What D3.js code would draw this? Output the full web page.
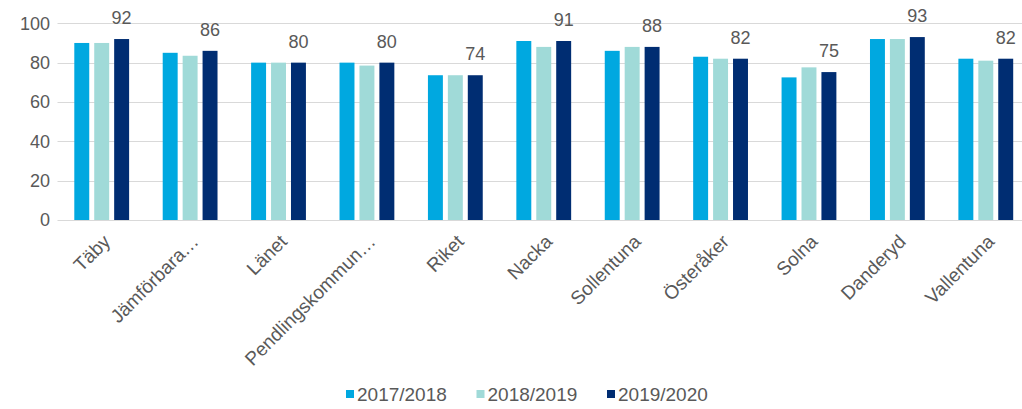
<!DOCTYPE html>
<html>
<head>
<meta charset="utf-8">
<script src="https://cdn.jsdelivr.net/npm/d3@7"></script>
<style>
  html, body { margin: 0; padding: 0; background: #fff; }
  svg { display: block; font-family: Arial, "Liberation Sans", sans-serif; }
</style>
</head>
<body>
<svg id="chart" width="1022" height="409"></svg>
<script>
const categories = ["Täby", "Jämförbara…", "Länet", "Pendlingskommun…", "Riket", "Nacka", "Sollentuna", "Österåker", "Solna", "Danderyd", "Vallentuna"];
const seriesNames = ["2017/2018", "2018/2019", "2019/2020"];
const values2017 = [90, 85, 80, 80, 73.6, 91, 86, 83, 72.5, 92, 82];
const values2018 = [90, 83.5, 80, 78.5, 73.6, 88, 88, 82, 77.6, 92, 81];
const values2019 = [92, 86, 80, 80, 73.6, 91, 88, 82, 75.2, 93, 82];
const yTicks = [0, 20, 40, 60, 80, 100];
const colors = ["#00a8e0", "#a0dad8", "#002d72"];

const seriesValues = [values2017, values2018, values2019];
const data = categories.map((c, i) => ({
  cat: c,
  vals: seriesNames.map((s, j) => ({ series: s, idx: j, value: seriesValues[j][i] }))
}));

const svg = d3.select("#chart");
const textColor = "#595959";
const gridColor = "#d9d9d9";
const FONT = "Arial, 'Liberation Sans', sans-serif";

const x0 = d3.scaleBand().domain(categories).range([57.5, 1030]).paddingInner(0.38).paddingOuter(0.19);
const x1 = d3.scaleBand().domain(seriesNames).range([0, x0.bandwidth()]).paddingInner(0.25).paddingOuter(0);
const y = d3.scaleLinear().domain([0, 100]).range([220, 23.3]);

// gridlines
svg.append("g").selectAll("line").data(yTicks).join("line")
  .attr("x1", 57.5).attr("x2", 1022)
  .attr("y1", d => Math.round(y(d)) + 0.5).attr("y2", d => Math.round(y(d)) + 0.5)
  .attr("stroke", gridColor).attr("stroke-width", 1);

// y axis labels
const yAxis = d3.axisLeft(y).tickValues(yTicks).tickSize(0).tickPadding(0);
const gy = svg.append("g").attr("transform", "translate(50,0)").call(yAxis);
gy.attr("font-size", null).attr("font-family", null);
gy.select(".domain").remove();
gy.selectAll("text").attr("fill", textColor).attr("font-size", "18px").attr("font-family", FONT);

// bars
const groups = svg.append("g").selectAll("g").data(data).join("g")
  .attr("transform", d => `translate(${x0(d.cat)},0)`);
groups.selectAll("rect").data(d => d.vals).join("rect")
  .attr("x", d => x1(d.series))
  .attr("width", x1.bandwidth())
  .attr("y", d => y(d.value))
  .attr("height", d => y(0) - y(d.value))
  .attr("fill", d => colors[d.idx]);

// data labels for last series
groups.append("text")
  .attr("x", d => x1(seriesNames[2]) + x1.bandwidth() / 2)
  .attr("y", d => y(d.vals[2].value) - 15)
  .attr("text-anchor", "middle")
  .attr("fill", textColor)
  .attr("font-size", "18px")
  .text(d => d3.format(".0f")(d.vals[2].value));

// x axis labels
const xAxis = d3.axisBottom(x0).tickSize(0).tickPadding(0);
const gx = svg.append("g").attr("transform", "translate(0,232)").call(xAxis);
gx.attr("font-size", null).attr("font-family", null);
gx.select(".domain").remove();
gx.selectAll("text")
  .attr("fill", textColor)
  .attr("font-size", "19px")
  .attr("font-family", FONT)
  .attr("text-anchor", "end")
  .attr("dy", "0.35em")
  .attr("transform", "translate(5,6) rotate(-45)");

// legend
const legend = svg.append("g").attr("transform", "translate(346,394)");
const items = legend.selectAll("g").data(seriesNames).join("g")
  .attr("transform", (d, i) => `translate(${i * 130.5},0)`);
items.append("rect").attr("x", 0).attr("y", -4).attr("width", 8).attr("height", 8)
  .attr("fill", (d, i) => colors[i]);
items.append("text").attr("x", 11).attr("dy", "0.35em")
  .attr("fill", textColor).attr("font-size", "19px").text(d => d);
</script>
</body>
</html>
